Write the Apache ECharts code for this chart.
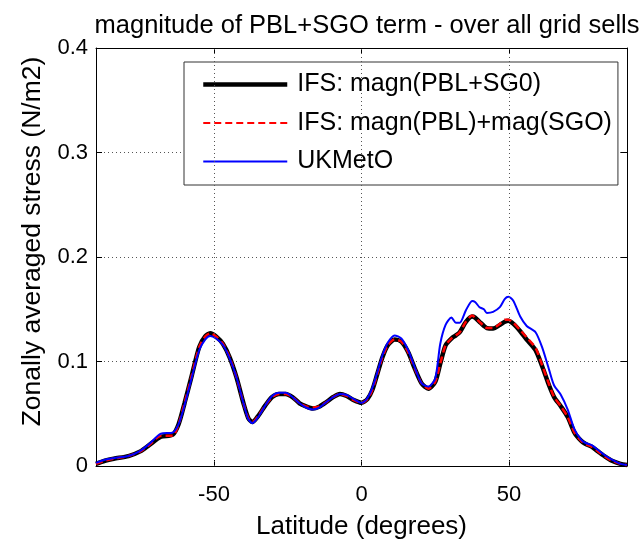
<!DOCTYPE html>
<html>
<head>
<meta charset="utf-8">
<script src="https://cdn.jsdelivr.net/npm/echarts@6/dist/echarts.min.js"></script>
<style>
  html, body { margin: 0; padding: 0; background: #fff; }
  #chart { width: 643px; height: 545px; }
</style>
</head>
<body>
<div id="chart"></div>
<script>
// Latitudes (degrees) at which the zonal means are listed
const latitudes = [
  -90, -87, -84, -79, -75, -72, -68, -64, -62, -60, -57.5, -55, -53, -51.3, -49.3, -47,
  -44.7, -42.4, -40, -38.4, -37, -35, -32.6, -30.3, -28, -25.7, -23.4, -21, -18.8, -16.5,
  -14.2, -12, -9.6, -7.3, -5, -2.6, 0, 2, 3.7, 5.4, 7.1, 8.9, 11.2, 13.5, 15.8, 18.1,
  20.4, 22.7, 25, 26.7, 28.5, 30.5, 32, 33.3, 35.4, 37.5, 38.5, 40, 41.5, 42.5, 44.6,
  46.9, 48.6, 49.8, 51.5, 53.8, 56, 59, 61.3, 63.6, 65.3, 67.6, 69.9, 72.2, 74.5, 76,
  78, 80.3, 82.6, 84.9, 87.8, 90
];

// IFS: magnitude of the combined PBL+SGO stress (N/m2)
const ifsCombined = [
  0.002, 0.005, 0.007, 0.0095, 0.014, 0.020, 0.028, 0.030, 0.040, 0.060, 0.087, 0.114, 0.124, 0.127, 0.124, 0.117,
  0.104, 0.085, 0.060, 0.046, 0.042, 0.048, 0.058, 0.066, 0.069, 0.069, 0.066, 0.060, 0.057, 0.055,
  0.057, 0.061, 0.066, 0.069, 0.067, 0.063, 0.0605, 0.064, 0.073, 0.0885, 0.104, 0.1155, 0.121, 0.119, 0.109, 0.093,
  0.079, 0.074, 0.0806, 0.098, 0.1155, 0.122, 0.125, 0.128, 0.138, 0.143, 0.142, 0.138, 0.134, 0.132, 0.1315,
  0.135, 0.138, 0.139, 0.136, 0.129, 0.121, 0.111, 0.095, 0.077, 0.066, 0.057, 0.047, 0.032, 0.024, 0.021,
  0.0185, 0.0137, 0.009, 0.005, 0.002, 0.001
];

// IFS: sum of the separate PBL and SGO magnitudes (N/m2)
const ifsSummed = [
  0.002, 0.005, 0.007, 0.0095, 0.014, 0.020, 0.029, 0.029, 0.040, 0.060, 0.087, 0.114, 0.124, 0.127, 0.124, 0.117,
  0.104, 0.085, 0.060, 0.046, 0.042, 0.048, 0.058, 0.066, 0.069, 0.069, 0.066, 0.060, 0.057, 0.056,
  0.057, 0.061, 0.066, 0.069, 0.067, 0.063, 0.0605, 0.064, 0.073, 0.0885, 0.104, 0.1155, 0.121, 0.119, 0.109, 0.093,
  0.079, 0.074, 0.0806, 0.098, 0.1155, 0.122, 0.125, 0.128, 0.138, 0.144, 0.142, 0.138, 0.134, 0.132, 0.132,
  0.136, 0.140, 0.140, 0.137, 0.130, 0.123, 0.113, 0.096, 0.078, 0.066, 0.057, 0.047, 0.032, 0.024, 0.021,
  0.0185, 0.0137, 0.009, 0.005, 0.002, 0.001
];

// UK Met Office stress (N/m2)
const ukmo = [
  0.003, 0.006, 0.0075, 0.0095, 0.0145, 0.021, 0.031, 0.032, 0.040, 0.058, 0.085, 0.111, 0.121, 0.1245, 0.122, 0.116,
  0.103, 0.085, 0.060, 0.045, 0.041, 0.047, 0.058, 0.067, 0.070, 0.070, 0.066, 0.060, 0.056, 0.054,
  0.056, 0.061, 0.066, 0.069, 0.068, 0.064, 0.0605, 0.065, 0.075, 0.090, 0.106, 0.118, 0.125, 0.122, 0.111, 0.094,
  0.079, 0.076, 0.0838, 0.117, 0.135, 0.142, 0.137, 0.137, 0.149, 0.158, 0.157, 0.152, 0.150, 0.1465, 0.1475,
  0.152, 0.160, 0.162, 0.158, 0.143, 0.134, 0.128, 0.113, 0.092, 0.077, 0.068, 0.054, 0.035, 0.025, 0.022,
  0.020, 0.015, 0.010, 0.006, 0.002, 0.001
];

const xTicks = [-50, 0, 50];
const seriesNames = ['IFS: magn(PBL+SG0)', 'IFS: magn(PBL)+mag(SGO)', 'UKMetO'];
const titleText = 'magnitude of PBL+SGO term - over all grid sells';

const FONT = '"Liberation Sans", Arial, Helvetica, sans-serif';
const pairs = vals => latitudes.map((lat, i) => [lat, vals[i]]);

const chart = echarts.init(document.getElementById('chart'), null, { renderer: 'canvas' });

// box frame on all four sides, ticks pointing into the plot
const axisLine = { show: true, onZero: false, lineStyle: { color: '#000', width: 1 } };
const tickIn = { show: true, inside: true, length: 6, lineStyle: { color: '#000', width: 1 } };
const gridDots = { color: '#555', type: [1, 3], width: 1 };

chart.setOption({
  animation: false,
  backgroundColor: '#fff',
  title: {
    text: titleText,
    left: 362, top: 8, textAlign: 'center',
    textStyle: { fontFamily: FONT, fontSize: 25.5, fontWeight: 'normal', color: '#000' }
  },
  grid: { left: 96, top: 48, width: 531, height: 421, containLabel: false },
  legend: {
    data: [
      { name: seriesNames[0], lineStyle: { width: 4.5 } },
      { name: seriesNames[1], lineStyle: { width: 2 } },
      { name: seriesNames[2], lineStyle: { width: 2 } }
    ],
    orient: 'vertical',
    left: 184, top: 62,
    padding: [10, 6, 11, 17],
    itemWidth: 84, itemHeight: 22, itemGap: 13.5,
    itemStyle: { opacity: 0 },
    backgroundColor: '#fff',
    borderColor: '#333', borderWidth: 1,
    textStyle: { fontFamily: FONT, fontSize: 25, lineHeight: 22, color: '#000', padding: [0, 0, 0, 5] }
  },
  xAxis: [{
    type: 'value', min: -90, max: 90,
    name: 'Latitude (degrees)', nameLocation: 'middle', nameGap: 48,
    nameTextStyle: { fontFamily: FONT, fontSize: 26, color: '#000' },
    axisLine: axisLine,
    axisTick: Object.assign({ customValues: xTicks }, tickIn),
    axisLabel: { customValues: xTicks, fontFamily: FONT, fontSize: 22, color: '#000', margin: 18 },
    splitLine: { show: false }
  }, {
    type: 'value', min: -90, max: 90, position: 'top',
    axisLine: axisLine,
    axisTick: Object.assign({ customValues: xTicks }, tickIn),
    axisLabel: { show: false },
    splitLine: { show: false }
  }],
  yAxis: [{
    type: 'value', min: 0, max: 0.4, interval: 0.1,
    name: 'Zonally averaged stress (N/m2)', nameLocation: 'middle', nameGap: 44,
    nameTextStyle: { fontFamily: FONT, fontSize: 26.5, color: '#000', padding: [0, 0, 0, 31] },
    axisLine: axisLine,
    axisTick: tickIn,
    axisLabel: { fontFamily: FONT, fontSize: 22, color: '#000', margin: 8,
                 formatter: v => (v === 0 ? '0' : String(Math.round(v * 10) / 10)) },
    splitLine: { show: true, lineStyle: gridDots }
  }, {
    type: 'value', min: 0, max: 0.4, interval: 0.1, position: 'right',
    axisLine: axisLine,
    axisTick: tickIn,
    axisLabel: { show: false },
    splitLine: { show: false }
  }],
  series: [{
    name: seriesNames[0], type: 'line', data: pairs(ifsCombined),
    smooth: 0.25, symbol: 'none', z: 2,
    lineStyle: { color: '#000', width: 4.5 },
    itemStyle: { color: '#000' },
    markLine: {
      silent: true, symbol: 'none', label: { show: false },
      lineStyle: gridDots,
      data: xTicks.map(v => ({ xAxis: v }))
    }
  }, {
    name: seriesNames[1], type: 'line', data: pairs(ifsSummed),
    smooth: 0.25, symbol: 'none', z: 3,
    lineStyle: { color: '#ff0000', width: 2.5, type: [7, 4] },
    itemStyle: { color: '#ff0000' }
  }, {
    name: seriesNames[2], type: 'line', data: pairs(ukmo),
    smooth: 0.25, symbol: 'none', z: 4,
    lineStyle: { color: '#0000ff', width: 2 },
    itemStyle: { color: '#0000ff' }
  }]
});
</script>
</body>
</html>
